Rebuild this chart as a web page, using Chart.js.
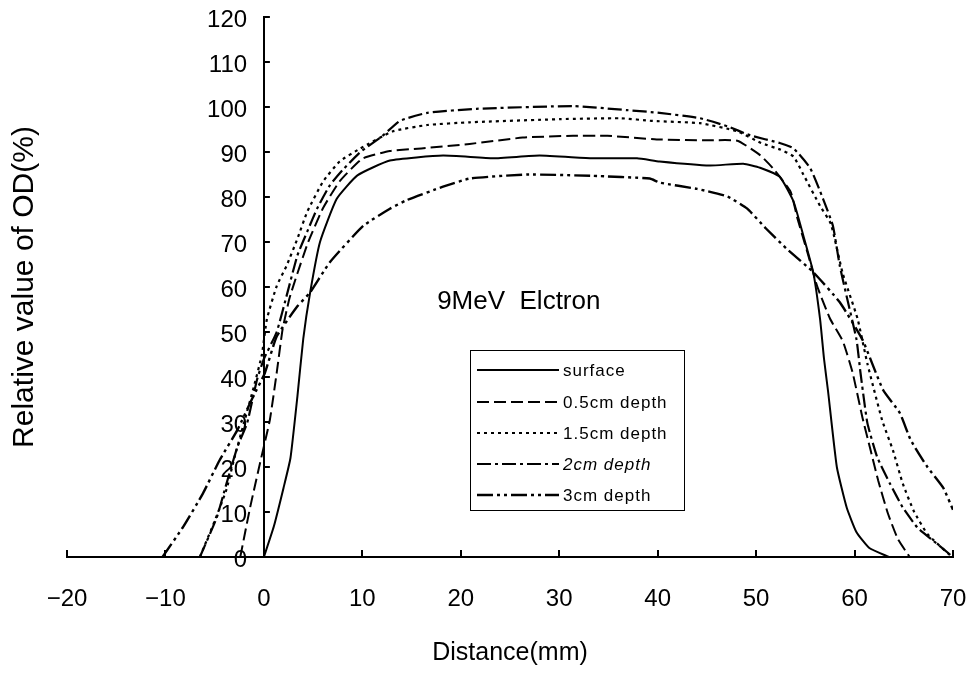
<!DOCTYPE html>
<html>
<head>
<meta charset="utf-8">
<script src="https://cdn.jsdelivr.net/npm/chart.js@4/dist/chart.umd.min.js"></script>
<style>
html,body{margin:0;padding:0;background:#fff;}
#wrap{width:973px;height:673px;}
</style>
</head>
<body>
<div id="wrap"><canvas id="c" width="973" height="673"></canvas></div>
<script>
// ---- data (distance in mm, relative OD in %) ----
const seriesLabels = ['surface', '0.5cm depth', '1.5cm depth', '2cm depth', '3cm depth'];
const xTicks = [-20, -10, 0, 10, 20, 30, 40, 50, 60, 70];
const yTicks = [0, 10, 20, 30, 40, 50, 60, 70, 80, 90, 100, 110, 120];
const annotationText = '9MeV  Elctron';
const xTitle = 'Distance(mm)';
const yTitle = 'Relative value of OD(%)';

const surface = [[0,0],[1.0,6.7],[2.0,15.4],[2.7,22],[3.4,35.6],[4.0,48.5],[4.7,58.8],[5.7,70],[7.4,79.6],[9.5,84.8],[12.8,88.1],[18.2,89.2],[23.3,88.6],[28,89.2],[33.4,88.6],[37.9,88.6],[40.2,87.9],[45.3,87.0],[48.7,87.4],[50.4,86.5],[52.4,84.5],[53.8,79],[54.8,71.4],[55.8,63.3],[56.5,52.8],[56.9,44],[57.3,37],[58.2,20],[59.2,11],[60.2,5.5],[61.5,2],[63.5,0]];
const depth05 = [[-2.4,0],[-1.4,11],[-0.4,20.8],[0.6,30.4],[1.3,40.9],[1.9,50.6],[2.6,57.5],[3.4,63],[4.5,70],[6,77.5],[7.7,83.5],[10,88.5],[12.8,90.2],[16,90.8],[20.9,91.8],[26.3,93.2],[31.4,93.6],[34.9,93.6],[39.9,92.8],[45,92.6],[48.1,92.5],[50.4,89.3],[51.7,86.4],[53.5,81.2],[54.2,75.2],[55.2,67.8],[56.2,60.2],[57.5,53],[58.8,48],[59.8,41],[60.8,31],[61.6,24],[62.4,17],[63.4,9.6],[64.4,4],[65.6,0]];
const depth15 = [[-6.5,0],[-5,8],[-3.8,15],[-3,22],[-2,30],[-1,38],[-0.2,45],[0.3,52.8],[1.3,60.2],[2.3,64.7],[3.4,70.7],[4.4,76.7],[6,83.4],[7.7,87.9],[9.8,90.8],[13.1,94.6],[16.6,96],[20.9,96.6],[30.1,97.3],[36.2,97.5],[39.5,96.9],[44.3,96.4],[48.1,94.6],[50.5,92],[52.5,90.5],[53.8,89],[54.8,85],[56.5,78],[57.6,74],[58.8,63],[60.3,53],[61.3,43],[62.8,30.4],[63.9,23.7],[64.9,16.3],[66,10.3],[67.4,5.1],[69.9,0]];
const depth2 = [[-6.5,0],[-4.8,8.7],[-3.8,16.3],[-2.7,24.4],[-1.7,29.8],[-0.7,39.4],[0,44],[1.3,50],[2.4,58.8],[3.4,67],[4.4,72.3],[5.4,77.4],[6.7,82.6],[8,86],[9.8,90],[12,93.5],[13.8,96.9],[16.6,98.7],[21.6,99.6],[31.4,100.2],[36.9,99.3],[40.2,98.7],[44.3,97.5],[47.1,95.7],[49.4,93.7],[52.4,92],[53.8,90.8],[55.5,86.4],[56.8,79.6],[57.8,73.6],[58.5,64.7],[59.2,57.9],[60.2,48.3],[60.6,41],[61.3,29.8],[62.3,22.2],[63.6,16.3],[64.9,11],[66.4,6.5],[68,3.6],[70,0]];
const depth3 = [[-10.3,0],[-8.2,6.7],[-6.2,14.1],[-4.5,21.5],[-2.7,28.2],[-1.1,35.6],[0.1,40.9],[1.3,49],[3.4,55.7],[4.7,58.8],[6.7,65.5],[10.1,73.6],[12.8,77.4],[14.5,79.3],[18.2,82.3],[20.9,84.1],[26.7,85.0],[33.4,84.7],[39.2,84.1],[40.2,83.2],[44,81.8],[47.1,80.1],[49.1,77.4],[51,73],[53.1,68.5],[55.8,63.3],[58.5,56.6],[60.8,48.3],[62.9,37.1],[64.6,32],[65.7,26],[67.4,20],[69,15.4],[70,10.5]];

const seriesData = [surface, depth05, depth15, depth2, depth3];

// ---- styles ----
const FONT = "'Liberation Sans', Arial, sans-serif";
const dashes = [[], [12, 5], [3, 4], [14, 4, 3, 4], [16, 4, 3, 4, 3, 4]];
const widths = [2, 2, 2.2, 2.2, 2.4];
const italicLabel = [false, false, false, true, false];

const toXY = arr => arr.map(p => ({x: p[0], y: p[1]}));

const datasets = seriesData.map((d, i) => ({
  label: seriesLabels[i],
  data: toXY(d),
  borderColor: '#000',
  backgroundColor: '#000',
  borderWidth: widths[i],
  borderDash: dashes[i],
  pointRadius: 0,
  tension: 0.15,
  fill: false
}));

const insideTicks = {
  id: 'insideTicks',
  afterDatasetsDraw(chart) {
    const {ctx, scales: {x, y}} = chart;
    const x0 = x.getPixelForValue(0);
    const y0 = y.getPixelForValue(0);
    ctx.save();
    ctx.strokeStyle = '#000';
    ctx.lineWidth = 2;
    ctx.beginPath();
    xTicks.forEach(v => {
      if (v === 0) return;
      const px = Math.round(x.getPixelForValue(v));
      ctx.moveTo(px, y0);
      ctx.lineTo(px, y0 - 7);
    });
    yTicks.forEach(v => {
      if (v === 0) return;
      const py = Math.round(y.getPixelForValue(v));
      ctx.moveTo(x0, py);
      ctx.lineTo(x0 + 6, py);
    });
    ctx.stroke();
    ctx.restore();
  }
};

const annotation = {
  id: 'annotation',
  afterDraw(chart) {
    const {ctx, scales: {x, y}} = chart;
    ctx.save();
    ctx.fillStyle = '#000';
    ctx.font = '26px ' + FONT;
    ctx.textAlign = 'left';
    ctx.textBaseline = 'middle';
    ctx.fillText(annotationText, x.getPixelForValue(17.6), y.getPixelForValue(56.6));
    ctx.restore();
  }
};

const legendBox = {
  id: 'legendBox',
  afterDraw(chart) {
    const ctx = chart.ctx;
    const L = 470, R = 684, T = 350, B = 510;
    ctx.save();
    ctx.strokeStyle = '#000';
    ctx.lineWidth = 1;
    ctx.strokeRect(L + 0.5, T + 0.5, R - L, B - T);
    const rows = [370, 402, 433, 464, 495];
    chart.data.datasets.forEach((ds, i) => {
      const yy = rows[i];
      ctx.beginPath();
      ctx.setLineDash(ds.borderDash || []);
      ctx.lineWidth = ds.borderWidth;
      ctx.moveTo(477, yy);
      ctx.lineTo(559, yy);
      ctx.stroke();
      ctx.setLineDash([]);
      ctx.font = (italicLabel[i] ? 'italic ' : '') + '17px ' + FONT;
      if ('letterSpacing' in ctx) ctx.letterSpacing = '1px';
      ctx.fillStyle = '#000';
      ctx.textAlign = 'left';
      ctx.textBaseline = 'middle';
      ctx.fillText(ds.label, 563, yy + 1);
    });
    ctx.restore();
  }
};

new Chart(document.getElementById('c'), {
  type: 'line',
  data: {datasets},
  plugins: [insideTicks, annotation, legendBox],
  options: {
    responsive: false,
    devicePixelRatio: 1,
    animation: false,
    layout: {padding: {left: 0, right: 20, top: 17, bottom: 0}},
    plugins: {
      legend: {display: false},
      tooltip: {enabled: false},
      title: {
        display: true, text: yTitle, position: 'left', fullSize: false,
        color: '#000', font: {family: FONT, size: 30, weight: 'normal', lineHeight: 1.2},
        padding: {top: 7, bottom: 24}
      },
      subtitle: {
        display: true, text: xTitle, position: 'bottom', fullSize: false,
        color: '#000', font: {family: FONT, size: 25, weight: 'normal', lineHeight: 1.2},
        padding: {top: 81, bottom: 5}
      }
    },
    scales: {
      x: {
        type: 'linear', min: -20, max: 70,
        position: {y: 0},
        afterBuildTicks: s => { s.ticks = xTicks.map(v => ({value: v})); },
        ticks: {
          autoSkip: false, maxRotation: 0, color: '#000', padding: 0,
          font: {family: FONT, size: 24},
          callback: v => String(v).replace('-', '\u2212')
        },
        grid: {display: true, drawOnChartArea: false, drawTicks: true, tickLength: 28, tickColor: 'rgba(0,0,0,0)'},
        border: {display: true, color: '#000', width: 2}
      },
      y: {
        type: 'linear', min: 0, max: 120,
        position: {x: 0},
        afterBuildTicks: s => { s.ticks = yTicks.map(v => ({value: v})); },
        ticks: {
          autoSkip: false, color: '#000', padding: 0, labelOffset: 3,
          font: {family: FONT, size: 24},
          callback: v => String(v) + '\u2002\u2009'
        },
        grid: {display: true, drawOnChartArea: false, drawTicks: false},
        border: {display: true, color: '#000', width: 2}
      }
    }
  }
});
</script>
</body>
</html>
